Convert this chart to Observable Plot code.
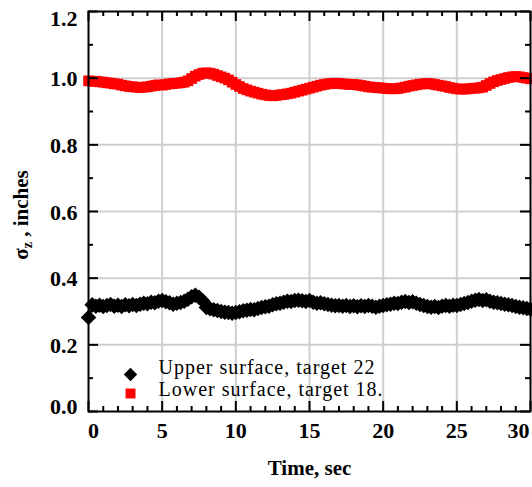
<!DOCTYPE html>
<html>
<head>
<meta charset="utf-8">
<script src="https://cdn.jsdelivr.net/npm/d3@7"></script>
<script src="https://cdn.jsdelivr.net/npm/@observablehq/plot@0.6"></script>
<style>
  html, body { margin: 0; padding: 0; background: #fff; }
  #chart svg { display: block; }
  #chart svg text { font-family: 'Liberation Serif', 'Times New Roman', Times, serif !important; }
</style>
</head>
<body>
<div id="chart"></div>
<script>
// ---- data ----
const time = d3.range(0, 30.001, 0.25); // 121 samples, 0..30 s

const lowerSurface = [
  0.992,0.990,0.991,0.989,0.988,0.986,0.985,0.983,0.982,
  0.979,0.977,0.975,0.974,0.973,0.972,0.973,0.974,
  0.976,0.978,0.980,0.979,0.981,0.983,0.984,0.985,
  0.986,0.988,0.992,0.999,1.006,1.011,1.015,1.016,
  1.015,1.012,1.008,1.004,1.000,0.995,0.988,0.981,
  0.975,0.969,0.965,0.961,0.958,0.955,0.952,0.950,
  0.948,0.947,0.948,0.950,0.951,0.953,0.955,0.958,
  0.961,0.964,0.967,0.970,0.973,0.976,0.979,0.981,
  0.983,0.984,0.985,0.984,0.983,0.982,0.981,0.981,
  0.980,0.978,0.976,0.974,0.973,0.972,0.971,0.970,
  0.969,0.968,0.968,0.969,0.971,0.973,0.976,0.978,
  0.980,0.982,0.983,0.984,0.983,0.981,0.979,0.977,
  0.975,0.972,0.970,0.968,0.967,0.967,0.968,0.969,
  0.970,0.971,0.973,0.978,0.984,0.989,0.993,0.996,
  0.999,1.002,1.004,1.005,1.004,1.002,1.000,0.998
];

const upperSurface = [
  0.282,0.320,0.316,0.319,0.315,0.318,0.321,0.316,0.319,
  0.315,0.320,0.317,0.321,0.318,0.322,0.325,0.323,
  0.328,0.326,0.331,0.333,0.329,0.326,0.322,0.325,
  0.327,0.331,0.337,0.344,0.349,0.343,0.332,0.312,
  0.308,0.305,0.303,0.300,0.298,0.297,0.295,0.297,
  0.299,0.302,0.304,0.306,0.305,0.309,0.312,0.314,
  0.316,0.320,0.323,0.325,0.328,0.331,0.330,0.333,
  0.334,0.332,0.330,0.333,0.328,0.325,0.326,0.323,
  0.321,0.319,0.317,0.318,0.316,0.318,0.315,0.317,
  0.314,0.317,0.315,0.318,0.316,0.313,0.316,0.318,
  0.320,0.322,0.325,0.324,0.328,0.330,0.327,0.329,
  0.325,0.321,0.318,0.315,0.313,0.315,0.312,0.316,
  0.318,0.316,0.319,0.318,0.321,0.324,0.327,0.331,
  0.334,0.336,0.333,0.335,0.331,0.328,0.326,0.324,
  0.322,0.320,0.318,0.315,0.313,0.311,0.309,0.307
];

const seriesNames = ["Upper surface, target 22", "Lower surface, target 18."];
const xMajorTicks = [0, 5, 10, 15, 20, 25, 30];
const xMinorTicks = [1,2,3,4,6,7,8,9,11,12,13,14,16,17,18,19,21,22,23,24,26,27,28,29];
const yMajorTicks = [0, 0.2, 0.4, 0.6, 0.8, 1.0, 1.2];
const yMinorTicks = [0.1, 0.3, 0.5, 0.7, 0.9, 1.1];
const xGridTicks = [5, 10, 15, 20, 25];
const yGridTicks = [0.2, 0.4, 0.6, 0.8, 1.0];
const xTitle = "Time, sec";

// ---- build ----
const W = 532, H = 487;
const mL = 88, mR = 2, mT = 11, mB = 76;
const pw = W - mL - mR, ph = H - mT - mB;
const FONT = "'Liberation Serif', 'Times New Roman', Times, serif";

const lower = time.map((t, i) => ({t, v: lowerSurface[i]}));
const upper = time.map((t, i) => ({t, v: upperSurface[i]}));

const fmtY = d3.format(".1f");
const gridStyle = {stroke: "#cfcfcf", strokeOpacity: 1, strokeWidth: 2};
const tk = {stroke: "black", strokeWidth: 2, strokeOpacity: 1};
const lab = {tickSize: 0, tickPadding: 11, label: null, fontFamily: FONT, fontWeight: "bold", fontSize: 22, fontVariant: "normal", className: "ticklab"};

const plot = Plot.plot({
  width: W, height: H,
  marginLeft: mL, marginRight: mR, marginTop: mT, marginBottom: mB,
  x: {domain: [0, 30], label: null},
  y: {domain: [0, 1.2], label: null},
  style: {fontFamily: FONT, fontSize: "22px", color: "black", background: "white"},
  marks: [
    Plot.gridX(xGridTicks, gridStyle),
    Plot.gridY(yGridTicks, gridStyle),
    Plot.dot(lower, {x: "t", y: "v", symbol: "square", r: 6, fill: "#ff0000", stroke: null}),
    Plot.dot(upper, {x: "t", y: "v", symbol: "diamond2", r: 7, fill: "black", stroke: null}),
    // inward ticks on all four sides
    Plot.tickY(yMajorTicks, {y: d => d, insetRight: pw - 10, ...tk}),
    Plot.tickY(yMajorTicks, {y: d => d, insetLeft: pw - 10, ...tk}),
    Plot.tickY(yMinorTicks, {y: d => d, insetRight: pw - 5, ...tk}),
    Plot.tickY(yMinorTicks, {y: d => d, insetLeft: pw - 5, ...tk}),
    Plot.tickX(xMajorTicks, {x: d => d, insetTop: ph - 10, ...tk}),
    Plot.tickX(xMajorTicks, {x: d => d, insetBottom: ph - 10, ...tk}),
    Plot.tickX(xMinorTicks, {x: d => d, insetTop: ph - 5, ...tk}),
    Plot.tickX(xMinorTicks, {x: d => d, insetBottom: ph - 5, ...tk}),
    Plot.frame({stroke: "black", strokeWidth: 2}),
    // tick labels
    Plot.axisY(yMajorTicks.slice(1, -1), {...lab, tickFormat: fmtY, dy: 1}),
    Plot.axisY([yMajorTicks[0]], {...lab, tickFormat: fmtY, dy: -5}),
    Plot.axisY([yMajorTicks[yMajorTicks.length - 1]], {...lab, tickFormat: fmtY, dy: 7}),
    Plot.axisX(xMajorTicks.slice(1, -1), {...lab}),
    Plot.axisX([xMajorTicks[0]], {...lab, dx: 5}),
    Plot.axisX([xMajorTicks[xMajorTicks.length - 1]], {...lab, dx: -12}),
    // x title
    Plot.text([xTitle], {frameAnchor: "bottom", dy: 63, fontSize: 21, fontWeight: "bold", fontFamily: FONT}),
    // legend
    Plot.dot([seriesNames[0]], {frameAnchor: "bottom-left", dx: 42, dy: -37, symbol: "diamond2", r: 6, fill: "black", stroke: null}),
    Plot.dot([seriesNames[1]], {frameAnchor: "bottom-left", dx: 42, dy: -18, symbol: "square", r: 5.6, fill: "#ff0000", stroke: null}),
    Plot.text([seriesNames[0]], {text: d => d, frameAnchor: "bottom-left", dx: 70, dy: -38, textAnchor: "start", fontWeight: "normal", fontSize: 20, fontFamily: FONT, className: "legend-text"}),
    Plot.text([seriesNames[1]], {text: d => d, frameAnchor: "bottom-left", dx: 70, dy: -16, textAnchor: "start", fontWeight: "normal", fontSize: 20, fontFamily: FONT, className: "legend-text"})
  ]
});

document.getElementById("chart").appendChild(plot);

const svg = d3.select(plot);
svg.selectAll(".legend-text text").attr("letter-spacing", 1);
svg.selectAll("text").style("font-family", FONT);
svg.selectAll("g[aria-label*='tick label'] text, .ticklab text")
  .style("font-weight", "bold").style("font-variant-numeric", "normal");

// y-axis title with subscript
const yt = svg.append("text")
  .attr("transform", `translate(28,${mT + ph / 2 + 4}) rotate(-90)`)
  .attr("text-anchor", "middle")
  .style("font-family", FONT)
  .attr("font-size", 21)
  .attr("font-weight", "bold")
  .attr("fill", "black");
yt.append("tspan").text("σ");
yt.append("tspan").attr("font-size", 14).attr("dy", 4).text("z");
yt.append("tspan").attr("dy", -4).text(" , inches");
</script>
</body>
</html>
